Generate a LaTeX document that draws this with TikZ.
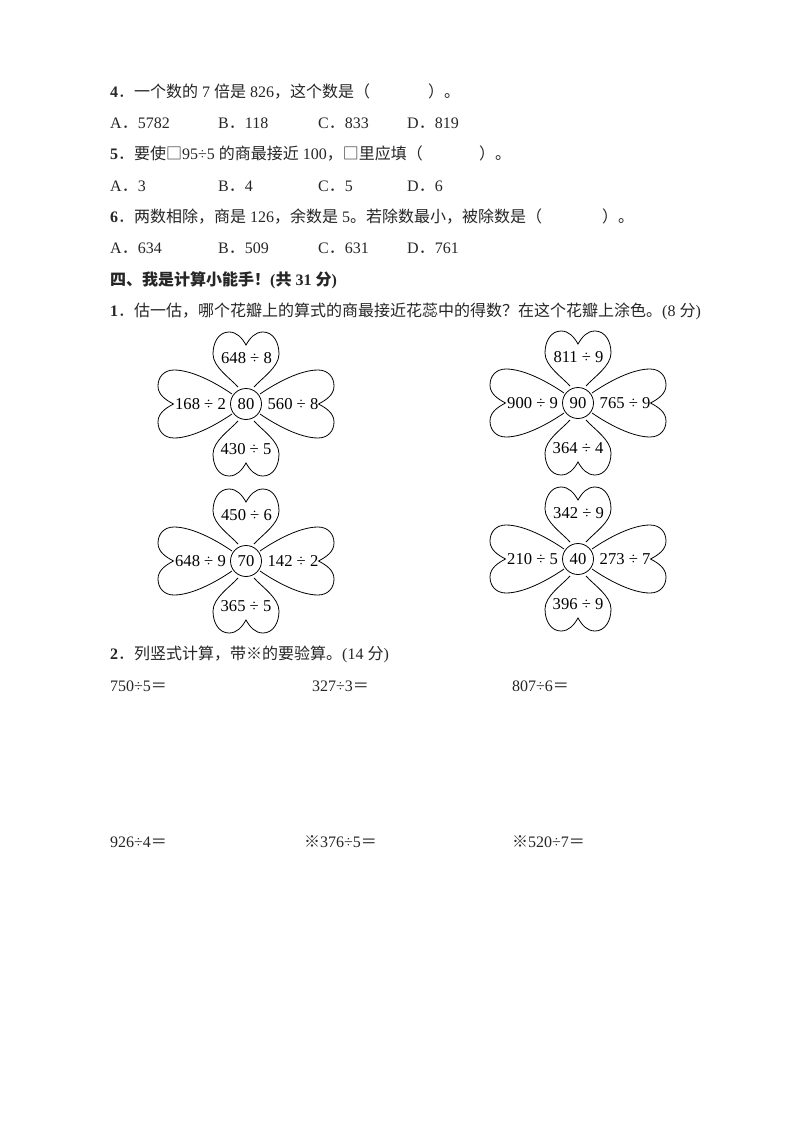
\documentclass[tikz,border=0pt]{standalone}
\usepackage{fontspec}
\setmainfont{Liberation Serif}
\newfontfamily\cjk{Noto Sans CJK SC}
\newcommand{\C}[1]{{\cjk #1}}
\tikzset{
  txt/.style={anchor=base west,inner sep=0pt,font=\fontsize{16}{18}\selectfont,text=black!85},
  lab/.style={inner sep=0pt,font=\fontsize{16.6}{18}\selectfont},
  hub/.style={circle,draw,line width=0.8pt,fill=white,minimum size=31pt,inner sep=0pt,font=\fontsize{16.6}{18}\selectfont},
  petal/.style={draw,line width=0.8pt,fill=white},
}
\newcommand{\T}[4]{\node[txt] (#1) at (#2,#3) {#4};}
\newcommand{\upetal}{%
  (17,-8) .. controls (26,-16) and (37,-33) .. (50,-33)
  .. controls (62,-33) and (72,-27) .. (72,-17)
  .. controls (72,-9) and (66,-4) .. (59,0)
  .. controls (66,4) and (72,9) .. (72,17)
  .. controls (72,27) and (62,33) .. (50,33)
  .. controls (37,33) and (26,16) .. (17,8)}
\newcommand{\spetal}{%
  (14,-10) .. controls (30,-21) and (54,-34) .. (72,-34)
  .. controls (82,-34) and (88,-27) .. (88,-18)
  .. controls (88,-9) and (80,-4) .. (72.5,0)
  .. controls (80,4) and (88,9) .. (88,18)
  .. controls (88,27) and (82,34) .. (72,34)
  .. controls (54,34) and (30,21) .. (14,10)}
% #1 cx, #2 cy, #3 name, #4 centre, #5 top, #6 right, #7 bottom, #8 left
\newcommand{\flower}[8]{%
  \begin{scope}[shift={(#1,#2)}]
    \begin{scope}[x={(0pt,1pt)},y={(1pt,0pt)}]\draw[petal] \upetal;\end{scope}
    \begin{scope}[x={(0pt,-1pt)},y={(1pt,0pt)}]\draw[petal] \upetal;\end{scope}
    \begin{scope}[x={(1pt,0pt)},y={(0pt,1pt)}]\draw[petal] \spetal;\end{scope}
    \begin{scope}[x={(-1pt,0pt)},y={(0pt,1pt)}]\draw[petal] \spetal;\end{scope}
    \node[hub] (#3c) at (0,0) {#4};
    \node[lab] (#3t) at (0.5,-45.5) {#5};
    \node[lab] (#3r) at (47,0) {#6};
    \node[lab] (#3b) at (0,45.5) {#7};
    \node[lab] (#3l) at (-45.5,0) {#8};
  \end{scope}}
\begin{document}
\begin{tikzpicture}[x=1pt,y=-1pt]
\useasboundingbox[fill=white] (0,0) rectangle (794,1123);
\T{q4}{110}{97.5}{\textbf{4}\C{．一个数的} 7 \C{倍是} 826\C{，这个数是（}}
\T{q4e}{428}{97.5}{\C{）。}}
\T{a4a}{110}{129}{A\C{．}5782}
\T{a4b}{218}{129}{B\C{．}118}
\T{a4c}{318}{129}{C\C{．}833}
\T{a4d}{407}{129}{D\C{．}819}
\T{q5}{110}{159.5}{\textbf{5}\C{．要使□}95÷5 \C{的商最接近} 100\C{，□里应填（}}
\T{q5e}{479}{159.5}{\C{）。}}
\T{a5a}{110}{191.5}{A\C{．}3}
\T{a5b}{218}{191.5}{B\C{．}4}
\T{a5c}{318}{191.5}{C\C{．}5}
\T{a5d}{407}{191.5}{D\C{．}6}
\T{q6}{110}{222.5}{\textbf{6}\C{．两数相除，商是} 126\C{，余数是} 5\C{。若除数最小，被除数是（}}
\T{q6e}{602}{222.5}{\C{）。}}
\T{a6a}{110}{254}{A\C{．}634}
\T{a6b}{218}{254}{B\C{．}509}
\T{a6c}{318}{254}{C\C{．}631}
\T{a6d}{407}{254}{D\C{．}761}
\T{sec}{110}{285}{\textbf{\C{四、我是计算小能手！}(\C{共} 31 \C{分})}}
\T{p1}{110}{316}{\textbf{1}\C{．估一估，哪个花瓣上的算式的商最接近花蕊中的得数？在这个花瓣上涂色。}(8 \C{分})}
\flower{246}{404}{fa}{80}{648 ÷ 8}{560 ÷ 8}{430 ÷ 5}{168 ÷ 2}
\flower{578}{403}{fb}{90}{811 ÷ 9}{765 ÷ 9}{364 ÷ 4}{900 ÷ 9}
\flower{246}{561}{fc}{70}{450 ÷ 6}{142 ÷ 2}{365 ÷ 5}{648 ÷ 9}
\flower{578}{559}{fd}{40}{342 ÷ 9}{273 ÷ 7}{396 ÷ 9}{210 ÷ 5}
\T{p2}{110}{659}{\textbf{2}\C{．列竖式计算，带※的要验算。}(14 \C{分})}
\T{c1}{110}{691}{750÷5\C{＝}}
\T{c2}{312}{691}{327÷3\C{＝}}
\T{c3}{512}{691}{807÷6\C{＝}}
\T{c4}{110}{847}{926÷4\C{＝}}
\T{c5}{304}{847}{\C{※}376÷5\C{＝}}
\T{c6}{512}{847}{\C{※}520÷7\C{＝}}
\end{tikzpicture}
\end{document}
